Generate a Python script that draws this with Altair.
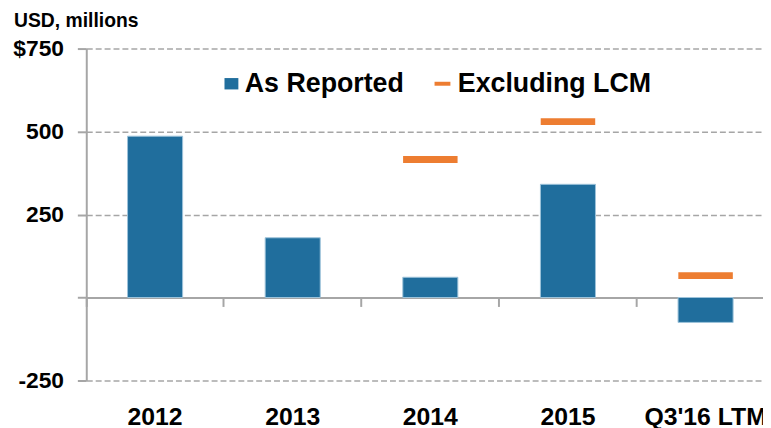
import altair as alt
import pandas as pd

categories = ["2012", "2013", "2014", "2015", "Q3'16 LTM"]
as_reported = [486, 180, 61, 341, -75]
excluding_lcm = [None, None, 416, 530, 66]
y_ticks = [-250, 0, 250, 500, 750]

BLUE = "#206e9d"
ORANGE = "#ed7d31"
GRAY = "#a6a6a6"
FONT = "Liberation Sans"

bar_df = pd.DataFrame({"category": categories, "value": as_reported, "series": "As Reported"})
tick_df = pd.DataFrame({"category": categories, "value": excluding_lcm, "series": "Excluding LCM"}).dropna()

xscale = alt.Scale(domain=categories, range=[0, 694.5], paddingInner=0, paddingOuter=0)
yscale = alt.Scale(domain=[-250, 750], nice=False, zero=False)

xaxis = alt.Axis(
    offset=-83.75, domain=True, domainColor=GRAY, domainWidth=2,
    ticks=True, tickSize=9, tickWidth=2, tickColor=GRAY, bandPosition=0,
    labelAngle=0, labelFontSize=25, labelFontWeight="bold", labelColor="black",
    labelFont=FONT, labelPadding=99.5, labelBaseline="top", labelLimit=400,
    grid=False, title=None,
)
yaxis = alt.Axis(
    values=y_ticks,
    labelExpr="datum.value == 750 ? '$750' : (datum.value == 0 ? '' : '' + datum.value)",
    labelFontSize=23, labelFontWeight="bold", labelColor="black", labelFont=FONT,
    labelPadding=14, tickSize=9, tickWidth=2, tickColor=GRAY,
    domainColor=GRAY, domainWidth=2,
    grid=True, gridColor=GRAY, gridDash=[6, 3], gridWidth=1.5,
    title="USD, millions", titleAngle=0, titleAlign="left", titleBaseline="alphabetic",
    titleX=-73.4, titleY=-22, titleFontSize=19.5, titleFontWeight="bold",
    titleColor="black", titleFont=FONT,
)

bars = alt.Chart(bar_df).mark_bar(
    width=alt.RelativeBandSize(0.4), stroke="#9ec3db", strokeWidth=1
).encode(
    x=alt.X("category:N", sort=categories, scale=xscale, axis=xaxis),
    y=alt.Y("value:Q", scale=yscale, axis=yaxis),
    color=alt.Color(
        "series:N",
        scale=alt.Scale(domain=["As Reported"], range=[BLUE]),
        legend=alt.Legend(
            orient="none", legendX=133, legendY=22, title=None, padding=0,
            symbolType="M-1,-0.82H1V0.82H-1Z", symbolSize=196, symbolStrokeWidth=0,
            symbolFillColor=BLUE, symbolOpacity=1,
            labelFontSize=27, labelFontWeight="bold", labelColor="black", labelFont=FONT,
            labelOffset=0, labelLimit=400,
        ),
    ),
)

ticks = alt.Chart(tick_df).mark_tick(size=55, thickness=7, opacity=1).encode(
    x=alt.X("category:N", sort=categories, scale=xscale, axis=xaxis),
    y=alt.Y("value:Q", scale=yscale, axis=yaxis),
    color=alt.Color(
        "series:N",
        scale=alt.Scale(domain=["Excluding LCM"], range=[ORANGE]),
        legend=alt.Legend(
            orient="none", legendX=346, legendY=22, title=None, padding=0,
            symbolType="M-1,-0.25H1V0.25H-1Z", symbolSize=256, symbolStrokeWidth=0,
            symbolFillColor=ORANGE, symbolOpacity=1,
            labelFontSize=27, labelFontWeight="bold", labelColor="black", labelFont=FONT,
            labelOffset=2, labelLimit=400,
        ),
    ),
)

chart = alt.layer(bars, ticks).resolve_scale(color="independent").resolve_legend(
    color="independent"
).properties(
    width=683, height=335,
    autosize=alt.AutoSizeParams(type="none"),
    padding={"left": 79, "top": 39, "right": 0, "bottom": 46},
    background="white",
).configure_view(stroke=None)

chart.save("out.html", embed_options={"renderer": "svg", "actions": False})
